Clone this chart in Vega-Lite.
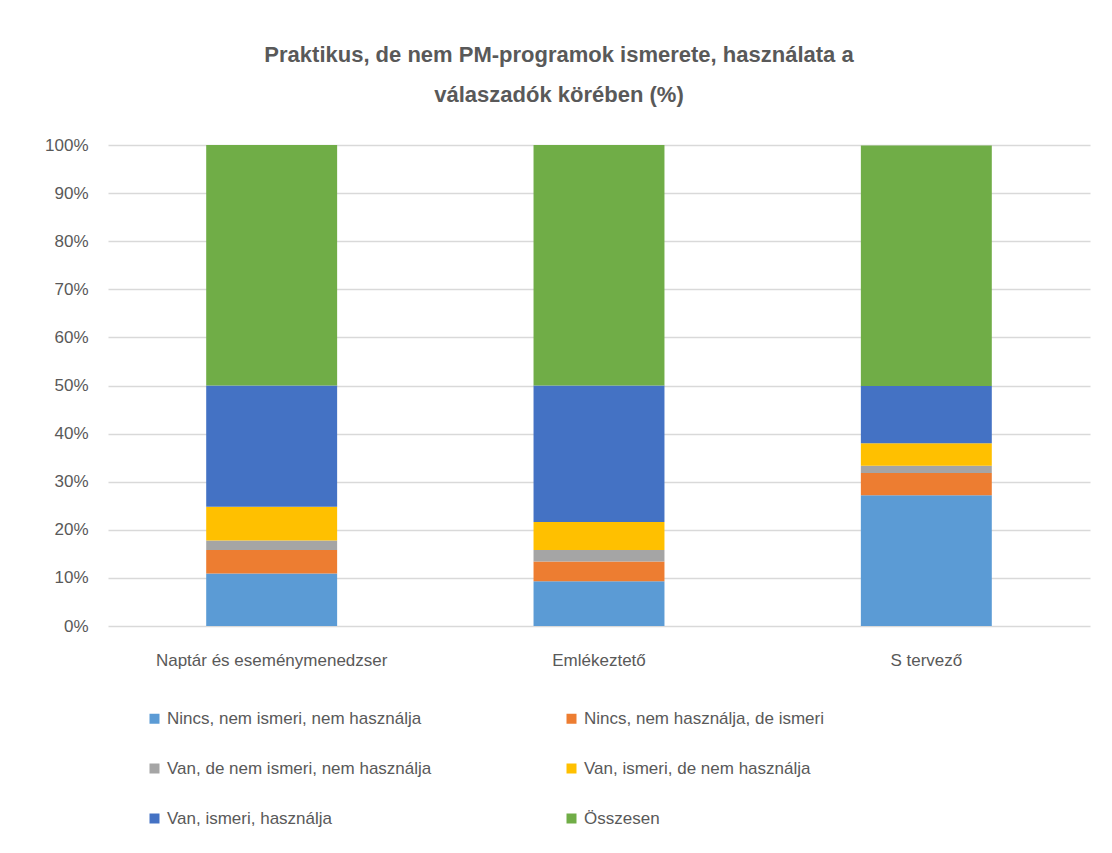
{
  "$schema": "https://vega.github.io/schema/vega-lite/v6.json",
  "width": 982,
  "height": 481,
  "autosize": "none",
  "padding": {"left": 108, "top": 145, "right": 22, "bottom": 227},
  "background": "white",
  "title": {
    "text": ["Praktikus, de nem PM-programok ismerete, használata a", "válaszadók körében (%)"],
    "font": "Liberation Sans",
    "fontSize": 22,
    "fontWeight": "bold",
    "color": "#595959",
    "anchor": "middle",
    "dx": -40,
    "lineHeight": 40,
    "offset": 29
  },
  "data": {
    "values": [
      {"kategoria": "Naptár és eseménymenedzser", "sorozat": "Nincs, nem ismeri, nem használja", "sor": 1, "ertek": 10.9},
      {"kategoria": "Naptár és eseménymenedzser", "sorozat": "Nincs, nem használja, de ismeri", "sor": 2, "ertek": 4.9},
      {"kategoria": "Naptár és eseménymenedzser", "sorozat": "Van, de nem ismeri, nem használja", "sor": 3, "ertek": 2.0},
      {"kategoria": "Naptár és eseménymenedzser", "sorozat": "Van, ismeri, de nem használja", "sor": 4, "ertek": 7.0},
      {"kategoria": "Naptár és eseménymenedzser", "sorozat": "Van, ismeri, használja", "sor": 5, "ertek": 25.2},
      {"kategoria": "Naptár és eseménymenedzser", "sorozat": "Összesen", "sor": 6, "ertek": 50.0},
      {"kategoria": "Emlékeztető", "sorozat": "Nincs, nem ismeri, nem használja", "sor": 1, "ertek": 9.3},
      {"kategoria": "Emlékeztető", "sorozat": "Nincs, nem használja, de ismeri", "sor": 2, "ertek": 4.1},
      {"kategoria": "Emlékeztető", "sorozat": "Van, de nem ismeri, nem használja", "sor": 3, "ertek": 2.4},
      {"kategoria": "Emlékeztető", "sorozat": "Van, ismeri, de nem használja", "sor": 4, "ertek": 5.8},
      {"kategoria": "Emlékeztető", "sorozat": "Van, ismeri, használja", "sor": 5, "ertek": 28.4},
      {"kategoria": "Emlékeztető", "sorozat": "Összesen", "sor": 6, "ertek": 50.0},
      {"kategoria": "S tervező", "sorozat": "Nincs, nem ismeri, nem használja", "sor": 1, "ertek": 27.2},
      {"kategoria": "S tervező", "sorozat": "Nincs, nem használja, de ismeri", "sor": 2, "ertek": 4.6},
      {"kategoria": "S tervező", "sorozat": "Van, de nem ismeri, nem használja", "sor": 3, "ertek": 1.5},
      {"kategoria": "S tervező", "sorozat": "Van, ismeri, de nem használja", "sor": 4, "ertek": 4.7},
      {"kategoria": "S tervező", "sorozat": "Van, ismeri, használja", "sor": 5, "ertek": 11.9},
      {"kategoria": "S tervező", "sorozat": "Összesen", "sor": 6, "ertek": 50.0}
    ]
  },
  "mark": {"type": "bar"},
  "encoding": {
    "x": {
      "field": "kategoria",
      "type": "nominal",
      "sort": ["Naptár és eseménymenedzser", "Emlékeztető", "S tervező"],
      "scale": {"paddingInner": 0.6, "paddingOuter": 0.3},
      "axis": {
        "title": null,
        "labelAngle": 0,
        "labelFont": "Liberation Sans",
        "labelFontSize": 17,
        "labelColor": "#595959",
        "labelPadding": 26,
        "ticks": false,
        "domain": false,
        "labelLimit": 400
      }
    },
    "y": {
      "field": "ertek",
      "type": "quantitative",
      "stack": "zero",
      "scale": {"domain": [0, 100]},
      "axis": {
        "title": null,
        "values": [0, 10, 20, 30, 40, 50, 60, 70, 80, 90, 100],
        "labelExpr": "datum.value + '%'",
        "labelFont": "Liberation Sans",
        "labelFontSize": 17,
        "labelColor": "#595959",
        "labelPadding": 20,
        "ticks": false,
        "domain": false,
        "grid": true,
        "gridColor": "#d9d9d9",
        "gridWidth": 1.5
      }
    },
    "color": {
      "field": "sorozat",
      "type": "nominal",
      "scale": {
        "domain": ["Nincs, nem ismeri, nem használja", "Van, de nem ismeri, nem használja", "Van, ismeri, használja", "Nincs, nem használja, de ismeri", "Van, ismeri, de nem használja", "Összesen"],
        "range": ["#5B9BD5", "#A5A5A5", "#4472C4", "#ED7D31", "#FFC000", "#70AD47"]
      },
      "legend": {
        "title": null,
        "orient": "none",
        "legendX": 38,
        "legendY": 565,
        "columns": 2,
        "columnPadding": 131,
        "rowPadding": 32,
        "symbolType": "square",
        "symbolSize": 100,
        "symbolStrokeWidth": 0,
        "symbolOffset": 0,
        "labelOffset": 4,
        "labelFont": "Liberation Sans",
        "labelFontSize": 17,
        "labelColor": "#595959",
        "labelLimit": 500
      }
    },
    "order": {"field": "sor", "type": "quantitative"}
  },
  "config": {
    "view": {"stroke": null}
  }
}
